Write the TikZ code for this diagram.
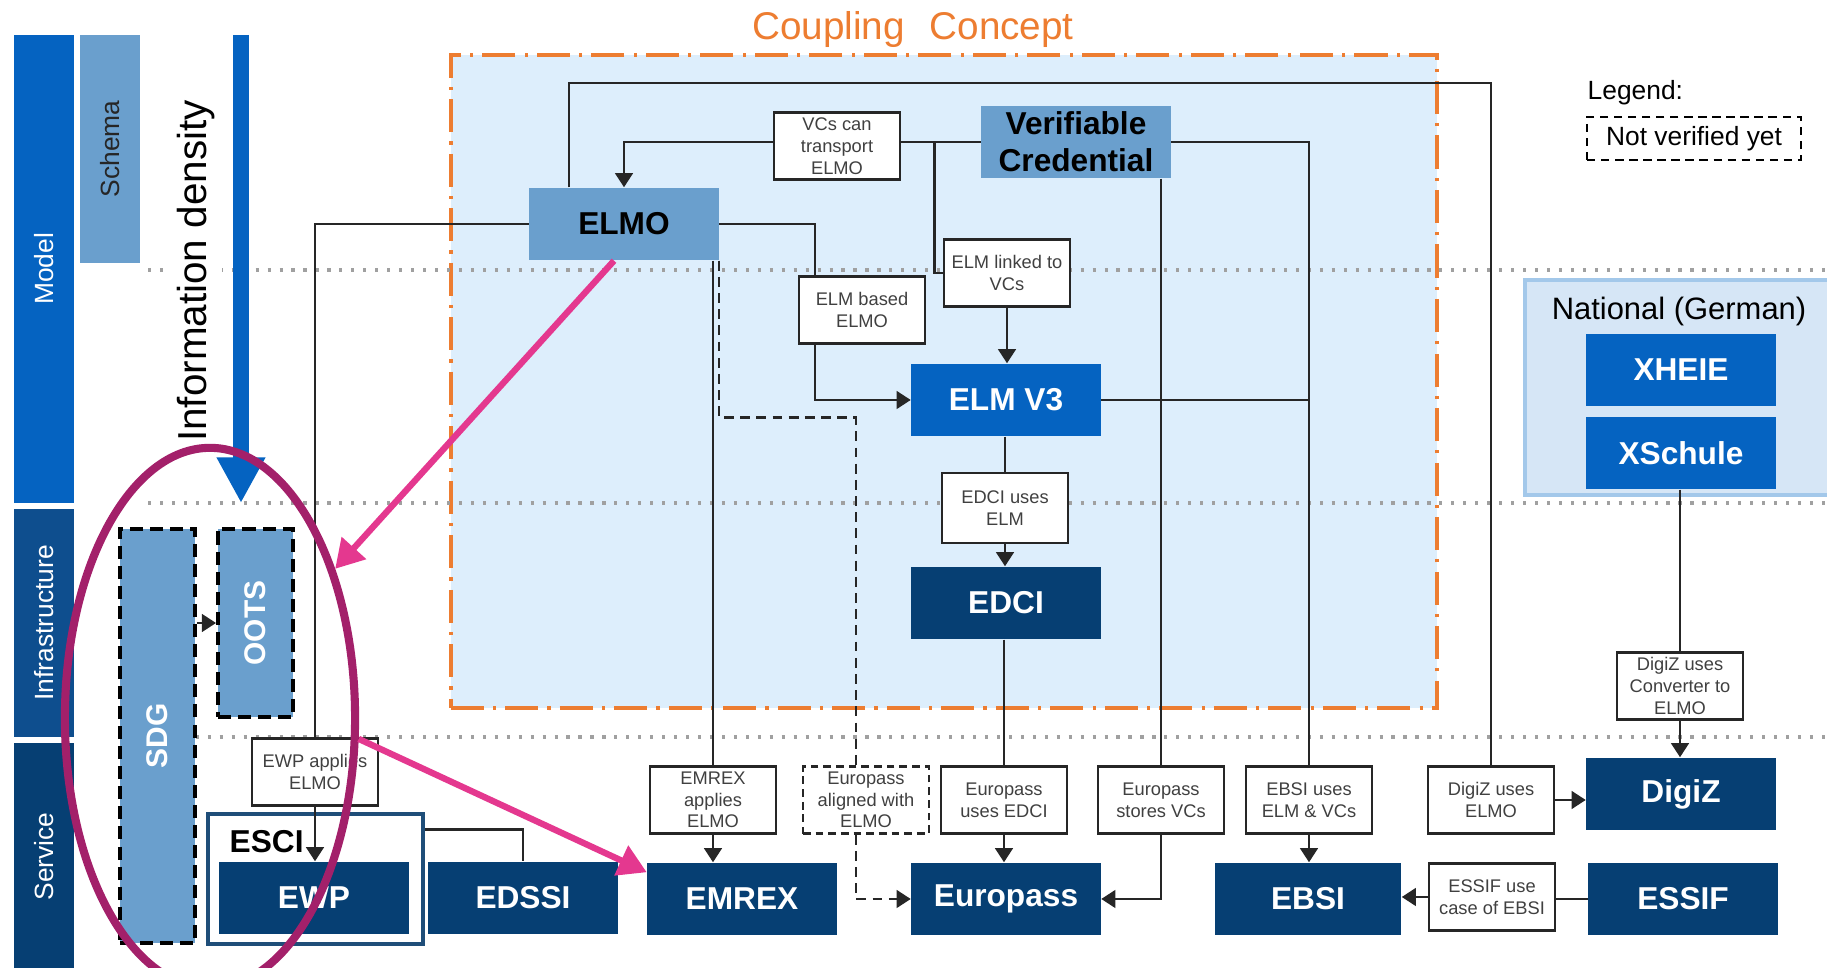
\documentclass[tikz,border=0pt]{standalone}
\usepackage{fontspec}
\setmainfont{Liberation Sans}
\usepackage{graphicx}
\usetikzlibrary{arrows.meta,shapes.geometric}
\definecolor{navy}{HTML}{063F73}
\definecolor{brightblue}{HTML}{0563C1}
\definecolor{infrablue}{HTML}{0E4E8E}
\definecolor{steel}{HTML}{6A9FCD}
\definecolor{couplefill}{HTML}{DDEEFC}
\definecolor{natfill}{HTML}{D6E6F6}
\definecolor{natborder}{HTML}{A3C8EA}
\definecolor{couplorange}{HTML}{ED7D31}
\definecolor{ringpurple}{HTML}{A3206A}
\definecolor{hotpink}{HTML}{E4388F}
\definecolor{escirim}{HTML}{1F4E79}
\definecolor{sepgray}{HTML}{A0A0A0}
\begin{document}
\begin{tikzpicture}[x=0.01cm, y=-0.01cm,
    bigbox/.style={minimum width=1.89cm, minimum height=0.72cm, inner sep=0pt, align=center, font=\fontsize{9}{10.5}\selectfont\bfseries},
    navybox/.style={bigbox, fill=navy, text=white},
    brightbox/.style={bigbox, fill=brightblue, text=white},
    steelbox/.style={bigbox, fill=steel, text=black},
    notebox/.style={draw=black!85, fill=white, line width=0.7pt, minimum width=1.26cm, minimum height=0.67cm, inner sep=0pt, align=center, text=black!75, font=\fontsize{5.2}{6.2}\selectfont},
    layerbar/.style={minimum width=0.6cm, inner sep=0pt, text=white, font=\fontsize{7.5}{9}\selectfont},
    dashbox/.style={draw=black, line width=1.1pt, dash pattern=on 3.7pt off 2pt, fill=steel, minimum width=0.75cm, inner sep=0pt, text=white, font=\fontsize{8.5}{10}\selectfont\bfseries},
    conn/.style={draw=black!85, line width=0.7pt},
    arr/.style={conn, -{Triangle[width=5pt,length=4pt]}},
    sepline/.style={sepgray, line width=0.9pt, dash pattern=on 0.9pt off 2.5pt},
    pinkarrow/.style={hotpink, line width=1.8pt, -{Triangle[width=9pt,length=8pt]}}
  ]
  \useasboundingbox (0,0) rectangle (1827,968);
  \clip (0,0) rectangle (1827,968);
  % areas
  \node[fill=couplefill, draw=couplorange, line width=1.2pt, dash pattern=on 9.4pt off 2.6pt on 0.9pt off 2.6pt, minimum width=9.86cm, minimum height=6.53cm, inner sep=0pt] (couple) at (944,381.5) {};
  \node[text=couplorange, font=\fontsize{11}{13}\selectfont] (ctitle) at (913,30) {Coupling \hspace{4pt}Concept};
  \node[fill=natfill, draw=natborder, line width=0.9pt, minimum width=3.15cm, minimum height=2.15cm, inner sep=0pt] (national) at (1682.5,387.5) {};
  \node[font=\fontsize{8.8}{10}\selectfont] (nattitle) at (1679,312) {National (German)};
  \foreach \y in {270,503,737}
    \draw[sepline] (148,\y) -- (1827,\y);
  % layers
  \node[layerbar, fill=brightblue, minimum height=4.68cm] (model) at (44,269) {\rotatebox{90}{Model}};
  \node[layerbar, fill=infrablue, minimum height=2.28cm] (infra) at (44,623) {\rotatebox{90}{Infrastructure}};
  \node[layerbar, fill=navy, minimum height=2.27cm] (service) at (44,856.5) {\rotatebox{90}{Service}};
  \node[layerbar, fill=steel, text=black!85, minimum height=2.28cm] (schema) at (110,149) {\rotatebox{90}{Schema}};
  \coordinate (dtop) at (241,35);
  \coordinate (dtip) at (241,503);
  \draw[brightblue, line width=4.5pt, -{Triangle[width=13pt,length=13pt]}] (dtop) -- (dtip);
  \node[fill=white, inner sep=2pt, font=\fontsize{11.5}{13}\selectfont] (density) at (196,271) {\rotatebox{90}{Information density}};
  % legend
  \node[anchor=west, inner sep=0pt, font=\fontsize{7.5}{9}\selectfont] (legend) at (1587,93) {Legend:};
  \node[draw, line width=0.8pt, dash pattern=on 2.4pt off 1.6pt, minimum width=2.14cm, minimum height=0.43cm, inner sep=0pt, font=\fontsize{7.5}{9}\selectfont] (notver) at (1694,138.5) {Not verified yet};
  % infrastructure
  \node[dashbox, minimum height=4.14cm] (SDG) at (157.5,736) {\rotatebox{90}{SDG}};
  \node[dashbox, minimum height=1.88cm] (OOTS) at (255.5,623) {\rotatebox{90}{OOTS}};
  \node[draw=escirim, line width=0.9pt, fill=white, minimum width=2.15cm, minimum height=1.30cm, inner sep=0pt] (esci) at (315.5,879) {};
  \node[anchor=west, inner sep=0pt, font=\fontsize{9}{10}\selectfont\bfseries] (escilabel) at (229,842) {ESCI};
  % main boxes
  \node[steelbox] (ELMO) at (624,224) {ELMO};
  \node[steelbox] (VC) at (1076,142) {Verifiable\\Credential};
  \node[brightbox] (ELMV3) at (1006,400) {ELM V3};
  \node[navybox] (EDCI) at (1006,603) {EDCI};
  \node[navybox, minimum width=1.90cm] (EWP) at (314,898) {EWP};
  \node[navybox] (EDSSI) at (523,898) {EDSSI};
  \node[navybox] (EMREX) at (742,899) {EMREX};
  \node[navybox] (Europass) at (1006,899) {Europass};
  \node[navybox, minimum width=1.86cm] (EBSI) at (1308,899) {EBSI};
  \node[navybox] (DigiZ) at (1681,794) {DigiZ};
  \node[navybox] (ESSIF) at (1683,899) {ESSIF};
  \node[brightbox] (XHEIE) at (1681,370) {XHEIE};
  \node[brightbox] (XSchule) at (1681,453) {XSchule};
  % relation boxes
  \node[notebox] (VCt) at (837,146) {VCs can\\transport\\ELMO};
  \node[notebox] (ELMb) at (862,310) {ELM based\\ELMO};
  \node[notebox] (ELMl) at (1007,273) {ELM linked to\\VCs};
  \node[notebox, minimum height=0.70cm] (EDCIa) at (1005,508) {EDCI uses\\ELM};
  \node[notebox] (EWPa) at (315,772) {EWP applies\\ELMO};
  \node[notebox] (EMREXa) at (713,800) {EMREX\\applies\\ELMO};
  \node[notebox, dash pattern=on 2.2pt off 1.4pt] (EPal) at (866,800) {Europass\\aligned with\\ELMO};
  \node[notebox] (EPuse) at (1004,800) {Europass\\uses EDCI};
  \node[notebox] (EPst) at (1161,800) {Europass\\stores VCs};
  \node[notebox] (EBSIa) at (1309,800) {EBSI uses\\ELM \& VCs};
  \node[notebox] (DigiZa) at (1491,800) {DigiZ uses\\ELMO};
  \node[notebox] (DigiZc) at (1680,686) {DigiZ uses\\Converter to\\ELMO};
  \node[notebox] (ESSIFa) at (1492,897) {ESSIF use\\case of EBSI};
  % connections
  \coordinate (busy) at (0,83);
  \draw[conn] ([xshift=0.4cm]ELMO.north west) |- (DigiZa.north |- busy) -- (DigiZa.north);
  \draw[conn] (VC.west) -- (VC.west -| VCt.east);
  \draw[arr] (VC.west -| VCt.west) -| (ELMO.north);
  \draw[conn] ([xshift=-0.46cm]VC.west) |- (ELMl.west);
  \draw[arr] (ELMl.south) -- (ELMl.south |- ELMV3.north);
  \draw[conn] (ELMO.east) -| ([xshift=0.17cm]ELMb.north west);
  \draw[arr] ([xshift=0.17cm]ELMb.south west) |- (ELMV3.west);
  \draw[conn] (EDCIa.north |- ELMV3.south) -- (EDCIa.north);
  \draw[arr] (EDCIa.south) -- (EDCIa.south |- EDCI.north);
  \draw[conn] (EPuse.north |- EDCI.south) -- (EPuse.north);
  \draw[arr] (EPuse.south) -- (EPuse.south |- Europass.north);
  \draw[conn] (EPst.north |- VC.south) -- (EPst.north);
  \draw[arr] (EPst.south) |- (Europass.east);
  \draw[conn] (VC.east) -| (EBSIa.north);
  \draw[conn] (ELMV3.east) -- (ELMV3.east -| EBSIa.north);
  \draw[arr] (EBSIa.south) -- (EBSIa.south |- EBSI.north);
  \draw[conn] (EMREXa.north |- ELMO.south) -- (EMREXa.north);
  \draw[arr] (EMREXa.south) -- (EMREXa.south |- EMREX.north);
  \draw[conn, dash pattern=on 2.8pt off 1.8pt] (ELMO.south east) -- ++(0,157) -| ([xshift=-0.1cm]EPal.north);
  \draw[arr, dash pattern=on 2.8pt off 1.8pt] ([xshift=-0.1cm]EPal.south) |- (Europass.west);
  \draw[conn] (ELMO.west) -| (EWPa.north);
  \draw[arr] (EWPa.south) -- (EWPa.south |- EWP.north);
  \draw[conn] ([yshift=-0.17cm]esci.north east) -| (EDSSI.north);
  \draw[arr] (SDG.east |- OOTS.west) -- (OOTS.west);
  \draw[arr] (DigiZa.east) -- (DigiZa.east -| DigiZ.west);
  \draw[conn] (DigiZc.north |- XSchule.south) -- (DigiZc.north);
  \draw[arr] (DigiZc.south) -- (DigiZc.south |- DigiZ.north);
  \draw[conn] (ESSIF.west) -- (ESSIF.west -| ESSIFa.east);
  \draw[arr] (ESSIFa.west) -- (ESSIFa.west -| EBSI.east);
  % highlight
  \node[ellipse, draw=ringpurple, line width=2.3pt, minimum width=2.9cm, minimum height=5.4cm, inner sep=0pt] (ring) at (210,718) {};
  \draw[pinkarrow] ([xshift=-0.1cm]ELMO.south) -- (ring.50);
  \draw[pinkarrow] (ring.-8) -- ([yshift=-0.1cm]EMREX.north west);
\end{tikzpicture}
\end{document}
